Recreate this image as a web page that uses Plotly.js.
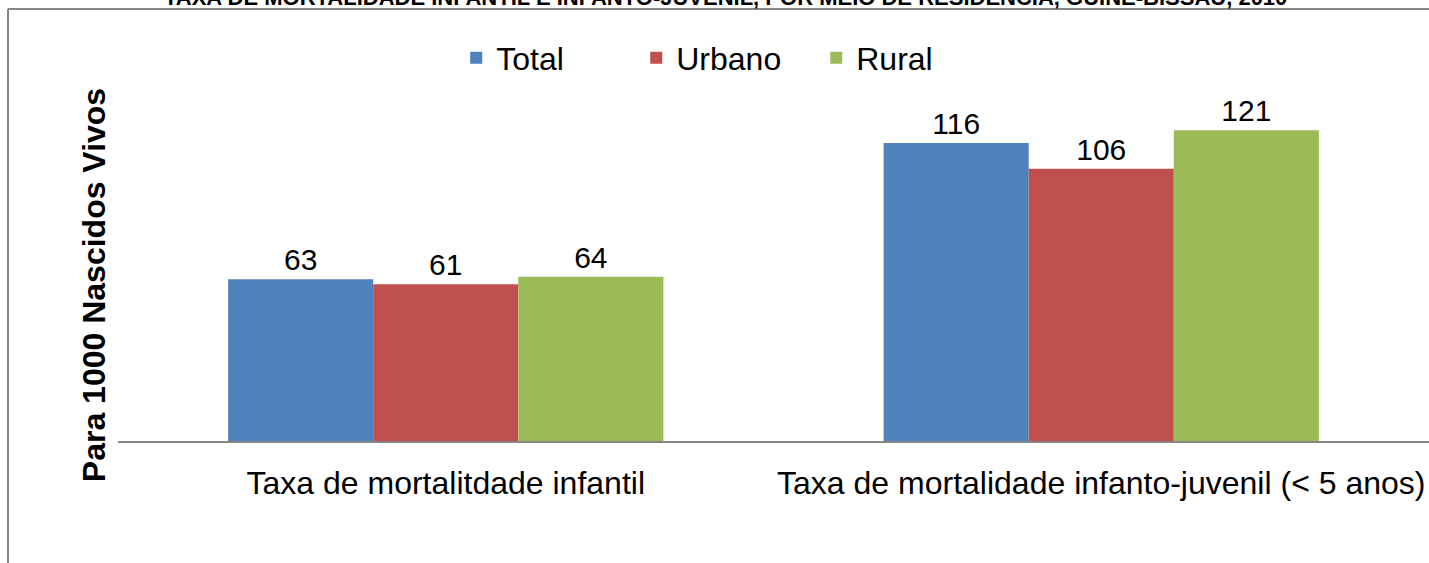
<!DOCTYPE html>
<html>
<head>
<meta charset="utf-8">
<script src="https://cdn.plot.ly/plotly-3.0.1.min.js"></script>
<style>
  html, body { margin: 0; padding: 0; background: #ffffff; }
  #chart { width: 1429px; height: 563px; }
</style>
</head>
<body>
<div id="chart"></div>
<script>
const categories = ["Taxa de mortalitdade infantil", "Taxa de mortalidade infanto-juvenil (< 5 anos)"];
const seriesNames = ["Total", "Urbano", "Rural"];
const totalValues = [63, 116];
const urbanoValues = [61, 106];
const ruralValues = [64, 121];
const seriesColors = ["#4F81BD", "#C0504D", "#9BBB59"];
const chartTitle = "TAXA DE MORTALIDADE INFANTIL E INFANTO-JUVENIL, POR MEIO DE RESIDÊNCIA, GUINÉ-BISSAU, 2010";
const yTitle = "Para 1000 Nascidos Vivos";

const FONT = "'Liberation Sans', Arial, Helvetica, sans-serif";
const seriesValues = [totalValues, urbanoValues, ruralValues];

const traces = seriesNames.map((name, i) => ({
  type: "bar",
  name: name,
  x: categories,
  y: seriesValues[i],
  marker: { color: seriesColors[i], line: { width: 0 } },
  text: seriesValues[i].map(v => String(v)),
  textposition: "outside",
  textfont: { family: FONT, size: 30, color: "#000000" },
  cliponaxis: false,
  hoverinfo: "x+y+name"
}));

const layout = {
  width: 1429,
  height: 563,
  margin: { l: 118, r: 0, t: 129, b: 122, pad: 0 },
  paper_bgcolor: "#ffffff",
  plot_bgcolor: "#ffffff",
  font: { family: FONT, color: "#000000" },
  barmode: "group",
  bargap: 0.336,
  bargroupgap: 0,
  xaxis: {
    showline: true,
    linecolor: "#868686",
    linewidth: 2,
    ticks: "",
    showgrid: false,
    zeroline: false,
    tickfont: { family: FONT, size: 32, color: "#000000" },
    ticklabelstandoff: 13
  },
  yaxis: {
    range: [0, 121.5],
    showgrid: false,
    zeroline: false,
    showline: false,
    showticklabels: false,
    ticks: "",
    automargin: false,
    title: {
      text: "<b>" + yTitle + "</b>",
      font: { family: FONT, size: 32, color: "#000000" },
      standoff: 1
    }
  },
  legend: {
    orientation: "h",
    x: 0.258, xanchor: "left",
    y: 1.2276, yanchor: "middle",
    font: { family: FONT, size: 32, color: "#000000" },
    bgcolor: "rgba(0,0,0,0)",
    borderwidth: 0,
    entrywidth: 135,
    entrywidthmode: "pixels",
    traceorder: "normal"
  },
  annotations: [{
    text: "<b>" + chartTitle + "</b>",
    font: { family: FONT, size: 22, color: "#000000" },
    xref: "paper", yref: "paper",
    x: 0.4637, xanchor: "center",
    y: 1.4199, yanchor: "middle",
    showarrow: false
  }],
  shapes: [
    {
      type: "line",
      xref: "paper", yref: "paper",
      x0: -0.0839, x1: -0.0839, y0: -0.413, y1: 1.3846,
      line: { color: "#868686", width: 2 },
      layer: "above"
    },
    {
      type: "line",
      xref: "paper", yref: "paper",
      x0: -0.0839, x1: 1.0, y0: 1.3846, y1: 1.3846,
      line: { color: "#868686", width: 2 },
      layer: "above"
    }
  ],
  showlegend: true
};

Plotly.newPlot("chart", traces, layout, { displayModeBar: false, staticPlot: true });
</script>
</body>
</html>
